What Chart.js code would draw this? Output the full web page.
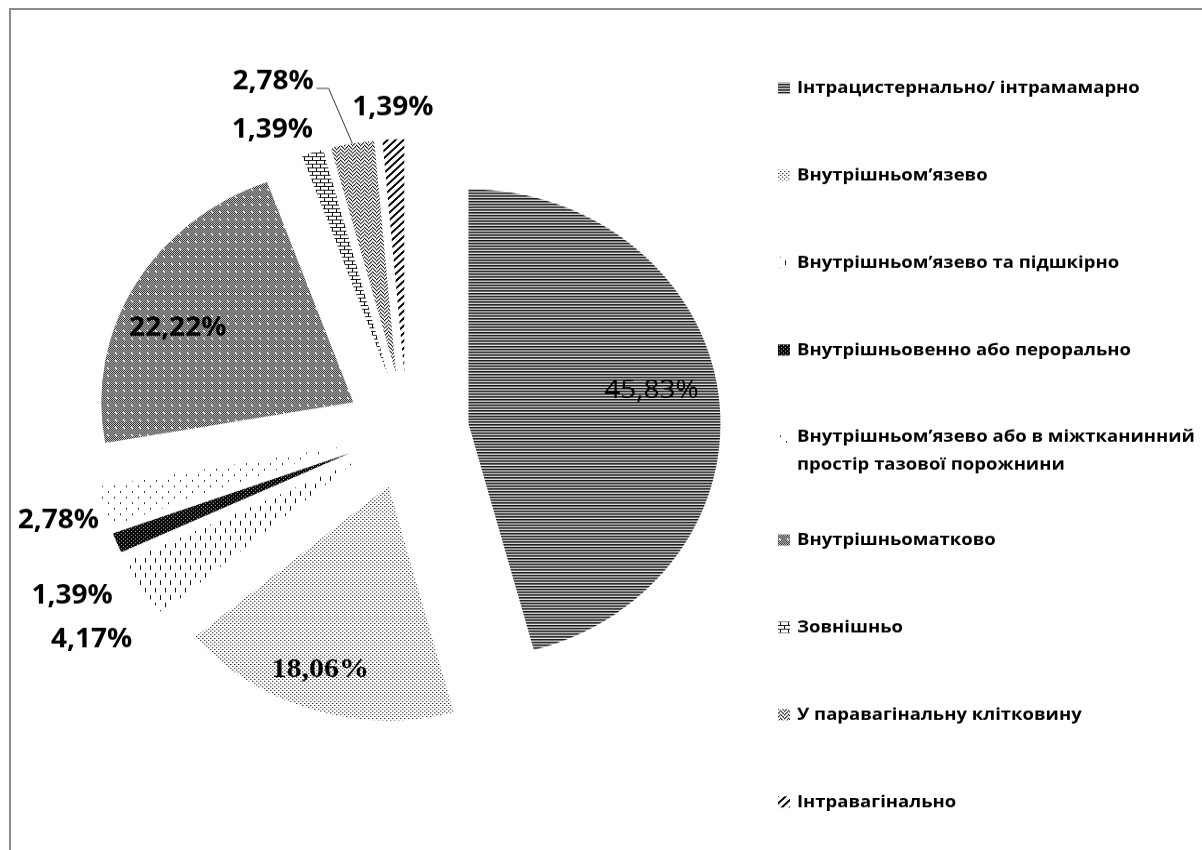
<!DOCTYPE html>
<html>
<head>
<meta charset="utf-8">
<script src="https://cdn.jsdelivr.net/npm/chart.js@4.4.1/dist/chart.umd.min.js"></script>
<style>
  html, body { margin: 0; padding: 0; background: #fff; width: 1202px; height: 850px; overflow: hidden; }
  #frame { position: absolute; left: 9px; top: 8px; width: 1300px; height: 900px;
           border-left: 2px solid #8c8c8c; border-top: 2px solid #8c8c8c; }
  /* the source picture is squashed vertically, so the chart is drawn taller and scaled down */
  #wrap { position: absolute; left: 0; top: 0; width: 1202px; height: 914px;
          transform: scaleY(0.93); transform-origin: 0 0; }
</style>
</head>
<body>
<div id="frame"></div>
<div id="wrap"><canvas id="chart"></canvas></div>
<script>
// data
const categories = [
  'Інтрацистернально/ інтрамамарно',
  'Внутрішньом’язево',
  'Внутрішньом’язево та підшкірно',
  'Внутрішньовенно або перорально',
  ['Внутрішньом’язево або в міжтканинний', 'простір тазової порожнини'],
  'Внутрішньоматково',
  'Зовнішньо',
  'У паравагінальну клітковину',
  'Інтравагінально'
];
const shares = [45.83, 18.06, 4.17, 1.39, 2.78, 22.22, 1.39, 2.78, 1.39];
const shareLabels = shares.map(v => v.toFixed(2).replace('.', ',') + '%');

// pattern fills (Excel style hatches)
function makePattern(w, h, bg, draw) {
  const c = document.createElement('canvas');
  c.width = w; c.height = h;
  const g = c.getContext('2d');
  g.fillStyle = bg;
  g.fillRect(0, 0, w, h);
  draw(g);
  return g.createPattern(c, 'repeat');
}
function dots(g, color, list) {
  g.fillStyle = color;
  list.forEach(p => g.fillRect(p[0], p[1], p[2] || 1, p[3] || 1));
}
function eachPixel(g, w, h, color, test) {
  g.fillStyle = color;
  for (let y = 0; y < h; y++) for (let x = 0; x < w; x++) if (test(x, y)) g.fillRect(x, y, 1, 1);
}

const fills = [
  makePattern(4, 3, '#e4e4e4', g => { dots(g, '#111', [[0, 0, 4, 1]]); dots(g, '#6a6a6a', [[0, 1, 4, 1]]); }),
  makePattern(4, 4, '#fff', g => { dots(g, '#222', [[0, 0], [2, 2]]); dots(g, '#aaa', [[1, 0], [3, 2]]); }),
  makePattern(10, 16, '#fff', g => dots(g, '#111', [[0, 0, 1, 5], [5, 8, 1, 5]])),
  makePattern(4, 4, '#0a0a0a', g => dots(g, '#b0b0b0', [[1, 1], [3, 3]])),
  makePattern(12, 12, '#fff', g => dots(g, '#333', [[0, 0, 1, 2], [6, 6, 1, 2]])),
  makePattern(8, 8, '#cfcfcf', g => { eachPixel(g, 8, 8, '#2a2a2a', (x, y) => (x + y) % 2 === 0); dots(g, '#fff', [[4, 4], [3, 3]]); }),
  makePattern(8, 8, '#fff', g => dots(g, '#111', [[0, 0, 8, 1], [0, 4, 8, 1], [0, 0, 1, 4], [4, 4, 1, 4]])),
  makePattern(8, 8, '#fff', g => {
    eachPixel(g, 8, 8, '#111', (x, y) => x < 4 ? (x + y) % 4 === 0 : (x - y + 8) % 4 === 0);
    eachPixel(g, 8, 8, '#9a9a9a', (x, y) => x < 4 ? (x + y) % 4 === 1 : (x - y + 8) % 4 === 1);
  }),
  makePattern(8, 8, '#fff', g => eachPixel(g, 8, 8, '#111', (x, y) => (x + y) % 8 < 3))
];

// layout
const explodeDistance = 62;
const pieRadius = 252;
// where each value label sits: fraction of radius from the slice tip, angle clockwise from 12 o'clock
const labelFont = 'bold 28px "Open Sans", "Noto Sans", sans-serif';
const labelSpots = [
  { f: 0.74, a: 79,  font: 'normal 28px "Open Sans", "Noto Sans", sans-serif' },
  { f: 0.83, a: 199, font: 'bold 30px "Liberation Serif", "DejaVu Serif", serif' },
  { f: 1.29, a: 234, font: labelFont },
  { f: 1.26, a: 241, font: labelFont },
  { f: 1.19, a: 254.4, font: labelFont },
  { f: 0.765, a: 294.4, font: labelFont },
  { f: 1.145, a: 336.3, font: labelFont },
  { f: 1.34, a: 338.6, font: labelFont },
  { f: 1.135, a: 357.7, font: labelFont }
];
const leaderFor = 7;
const legendBox = { swatchX: 778, textX: 797, firstY: 94.6, step: 93.9, extra: 16.5, lineGap: 30, size: 12 };

const explode = {
  id: 'explode',
  afterDatasetsUpdate(chart) {
    chart.getDatasetMeta(0).data.forEach(arc => {
      const mid = (arc.startAngle + arc.endAngle) / 2;
      arc.x += Math.cos(mid) * explodeDistance;
      arc.y += Math.sin(mid) * explodeDistance;
    });
  }
};

const valueLabels = {
  id: 'valueLabels',
  afterDatasetsDraw(chart) {
    const ctx = chart.ctx;
    ctx.save();
    ctx.fillStyle = '#000';
    ctx.textAlign = 'center';
    ctx.textBaseline = 'middle';
    chart.getDatasetMeta(0).data.forEach((arc, i) => {
      const spot = labelSpots[i];
      const a = spot.a * Math.PI / 180;
      const x = arc.x + spot.f * arc.outerRadius * Math.sin(a);
      const y = arc.y - spot.f * arc.outerRadius * Math.cos(a);
      ctx.font = spot.font;
      ctx.fillText(shareLabels[i], x, y);
      if (i === leaderFor) {
        const mid = (arc.startAngle + arc.endAngle) / 2;
        const w = ctx.measureText(shareLabels[i]).width;
        const sx = x + w / 2 + 3, sy = y + 7;
        ctx.strokeStyle = '#333';
        ctx.lineWidth = 1;
        ctx.beginPath();
        ctx.moveTo(sx, sy);
        ctx.lineTo(sx + 12, sy);
        ctx.lineTo(arc.x + Math.cos(mid) * arc.outerRadius, arc.y + Math.sin(mid) * arc.outerRadius);
        ctx.stroke();
      }
    });
    ctx.restore();
  }
};

const sideLegend = {
  id: 'sideLegend',
  afterDraw(chart) {
    const ctx = chart.ctx;
    ctx.save();
    ctx.font = 'bold 18.5px "Open Sans", "Noto Sans", sans-serif';
    ctx.textBaseline = 'middle';
    ctx.textAlign = 'left';
    categories.forEach((name, i) => {
      const y = legendBox.firstY + i * legendBox.step + (i > 4 ? legendBox.extra : 0);
      ctx.fillStyle = fills[i];
      ctx.fillRect(legendBox.swatchX, y - legendBox.size / 2, legendBox.size, legendBox.size);
      ctx.fillStyle = '#000';
      const lines = Array.isArray(name) ? name : [name];
      lines.forEach((t, j) => ctx.fillText(t, legendBox.textX, y + j * legendBox.lineGap));
    });
    ctx.restore();
  }
};

new Chart(document.getElementById('chart'), {
  type: 'pie',
  data: {
    labels: categories,
    datasets: [{
      data: shares,
      backgroundColor: fills,
      borderWidth: 0
    }]
  },
  options: {
    responsive: true,
    maintainAspectRatio: false,
    animation: false,
    events: [],
    radius: pieRadius,
    layout: { padding: { left: 0, right: 388, top: 13, bottom: 0 } },
    plugins: {
      legend: { display: false },
      tooltip: { enabled: false }
    }
  },
  plugins: [explode, valueLabels, sideLegend]
});
</script>
</body>
</html>
